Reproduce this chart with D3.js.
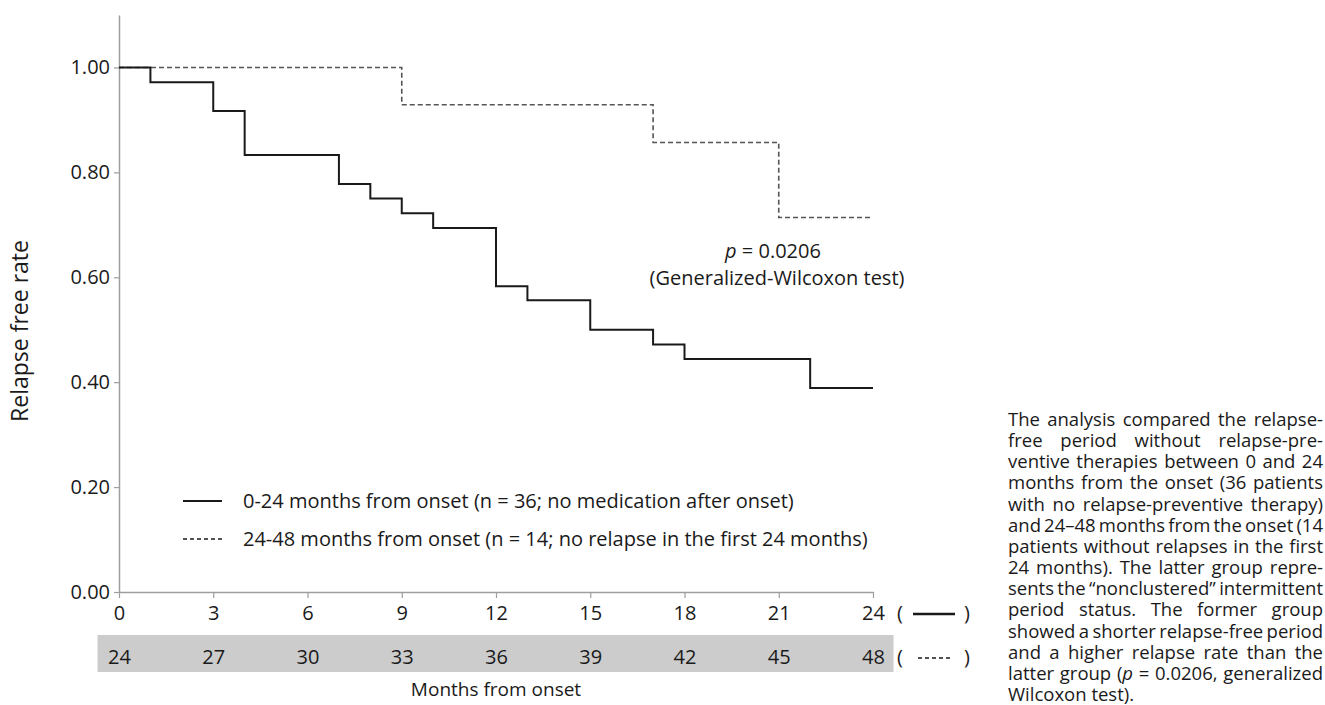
<!DOCTYPE html>
<html>
<head>
<meta charset="utf-8">
<script src="https://cdn.jsdelivr.net/npm/d3@7"></script>
<style>
  html, body { margin: 0; padding: 0; background: #fff; }
  svg text { font-family: "Open Sans", "Noto Sans", sans-serif; fill: #1a1a1a; }
</style>
</head>
<body>
<svg id="chart" width="1325" height="705"></svg>
<script>
// months on the lower axis (0-24 group) and shaded row (24-48 group)
const monthTicks = [0, 3, 6, 9, 12, 15, 18, 21, 24];
const lateMonthTicks = [24, 27, 30, 33, 36, 39, 42, 45, 48];
const rateTicks = [0, 0.2, 0.4, 0.6, 0.8, 1.0];

// 0-24 months from onset, n = 36
const earlyTimes = [0, 1, 3, 4, 7, 8, 9, 10, 12, 13, 15, 17, 18, 22, 24];
const earlyRate = [1.000, 0.972, 0.917, 0.833, 0.778, 0.750, 0.722, 0.694, 0.583, 0.556, 0.500, 0.472, 0.444, 0.389, 0.389];

// 24-48 months from onset, n = 14
const lateTimes = [0, 9, 17, 21, 24];
const lateRate = [1.000, 0.929, 0.857, 0.714, 0.714];

const legendLabels = [
  "0-24 months from onset (n = 36; no medication after onset)",
  "24-48 months from onset (n = 14; no relapse in the first 24 months)"
];

const captionLines = [
  "The analysis compared the relapse-",
  "free period without relapse-pre-",
  "ventive therapies between 0 and 24",
  "months from the onset (36 patients",
  "with no relapse-preventive therapy)",
  "and 24\u201348 months from the onset (14",
  "patients without relapses in the first",
  "24 months). The latter group repre-",
  "sents the \u201cnonclustered\u201d intermittent",
  "period status. The former group",
  "showed a shorter relapse-free period",
  "and a higher relapse rate than the",
  "latter group (*p* = 0.0206, generalized",
  "Wilcoxon test)."
];

const svg = d3.select('#chart');
const axisColor = '#9e9e9e';

const x = d3.scaleLinear().domain([0, 24]).range([119, 873]);
const xLate = d3.scaleLinear().domain([24, 48]).range([119, 873]);
const y = d3.scaleLinear().domain([0, 1.1]).range([592, 15]);

// grey band behind the second row of month labels
svg.append('rect')
  .attr('x', 97.5).attr('y', 635)
  .attr('width', 796).attr('height', 37)
  .attr('fill', '#cccccc');

// y axis
const yAxis = svg.append('g')
  .attr('transform', `translate(${x(0)},0)`)
  .call(d3.axisLeft(y).tickValues(rateTicks).tickFormat(d3.format('.2f')).tickSize(5).tickPadding(4).tickSizeOuter(0));
yAxis.select('.domain').attr('stroke', axisColor).attr('stroke-width', 1.5);
yAxis.selectAll('.tick line').attr('stroke', axisColor).attr('stroke-width', 1.2);
yAxis.selectAll('.tick text').attr('font-size', 20).attr('fill', '#1a1a1a')
  .style('font-family', '"Open Sans", sans-serif');

// x axis
const xAxis = svg.append('g')
  .attr('transform', `translate(0,${y(0)})`)
  .call(d3.axisBottom(x).tickValues(monthTicks).tickSize(6).tickPadding(8).tickSizeOuter(0));
xAxis.select('.domain').attr('stroke', axisColor).attr('stroke-width', 1.5);
xAxis.selectAll('.tick line').attr('stroke', axisColor).attr('stroke-width', 1.2);
xAxis.selectAll('.tick text').attr('font-size', 20).attr('fill', '#1a1a1a')
  .style('font-family', '"Open Sans", sans-serif');

// second row of month labels (24-48 group)
const xAxis2 = svg.append('g')
  .attr('transform', `translate(0,636)`)
  .call(d3.axisBottom(xLate).tickValues(lateMonthTicks).tickSize(0).tickPadding(14));
xAxis2.select('.domain').remove();
xAxis2.selectAll('.tick text').attr('font-size', 20).attr('fill', '#1a1a1a')
  .style('font-family', '"Open Sans", sans-serif');

// axis titles
svg.append('text')
  .attr('transform', `translate(28,${331}) rotate(-90)`)
  .attr('text-anchor', 'middle')
  .attr('font-size', 23)
  .text('Relapse free rate');

svg.append('text')
  .attr('x', 496).attr('y', 696)
  .attr('text-anchor', 'middle')
  .attr('font-size', 19)
  .text('Months from onset');

// survival curves
const line = d3.line()
  .x(d => x(d[0]))
  .y(d => y(d[1]))
  .curve(d3.curveStepAfter);

svg.append('path')
  .datum(lateTimes.map((t, i) => [t, lateRate[i]]))
  .attr('d', line)
  .attr('fill', 'none')
  .attr('stroke', '#555')
  .attr('stroke-width', 1.6)
  .attr('stroke-dasharray', '5,3');

svg.append('path')
  .datum(earlyTimes.map((t, i) => [t, earlyRate[i]]))
  .attr('d', line)
  .attr('fill', 'none')
  .attr('stroke', '#1a1a1a')
  .attr('stroke-width', 2);

// legend
const legend = svg.append('g');
const legendY = [501, 539];
legendLabels.forEach((lbl, i) => {
  legend.append('line')
    .attr('x1', 183).attr('x2', 222)
    .attr('y1', legendY[i]).attr('y2', legendY[i])
    .attr('stroke', '#1a1a1a')
    .attr('stroke-width', i === 0 ? 2 : 1.3)
    .attr('stroke-dasharray', i === 0 ? null : '4,3');
  legend.append('text')
    .attr('x', 243).attr('y', legendY[i])
    .attr('dy', '0.35em')
    .attr('font-size', 20)
    .text(lbl);
});

// line keys next to the month rows
const keyY = [613, 657];
keyY.forEach((ky, i) => {
  svg.append('text').attr('x', 900).attr('y', ky).attr('dy', '0.35em')
    .attr('text-anchor', 'middle').attr('font-size', 20).text('(');
  svg.append('text').attr('x', 967).attr('y', ky).attr('dy', '0.35em')
    .attr('text-anchor', 'middle').attr('font-size', 20).text(')');
  svg.append('line')
    .attr('x1', i === 0 ? 913 : 918).attr('x2', i === 0 ? 955 : 950)
    .attr('y1', ky + 1).attr('y2', ky + 1)
    .attr('stroke', '#1a1a1a')
    .attr('stroke-width', i === 0 ? 2.4 : 1.3)
    .attr('stroke-dasharray', i === 0 ? null : '4,3');
});

// p-value annotation
const pText = svg.append('text')
  .attr('x', 773).attr('y', 258)
  .attr('text-anchor', 'middle')
  .attr('font-size', 20);
pText.append('tspan').attr('font-style', 'italic').text('p');
pText.append('tspan').text(' = 0.0206');
svg.append('text')
  .attr('x', 777).attr('y', 285)
  .attr('text-anchor', 'middle')
  .attr('font-size', 20)
  .text('(Generalized-Wilcoxon test)');

// justified caption on the right: one text per line, words placed by tspans
const capX = 1008, capW = 315, capTop = 426, capLead = 21.15, capSize = 18.5;
const cap = svg.append('g').attr('font-size', capSize);
const probe = cap.append('text').attr('visibility', 'hidden');
function measure(segs) {
  probe.selectAll('tspan').remove();
  segs.forEach(s => probe.append('tspan').attr('font-style', s.it ? 'italic' : null).text(s.t));
  return probe.node().getComputedTextLength();
}
captionLines.forEach((ln, i) => {
  const yy = capTop + i * capLead;
  const words = ln.split(' ').map(w => w.split('*')
    .map((t, k) => ({ t, it: k % 2 === 1 }))
    .filter(s => s.t.length));
  const widths = words.map(measure);
  const total = d3.sum(widths);
  const last = i === captionLines.length - 1;
  const gap = last ? capSize * 0.26 : (capW - total) / (words.length - 1);
  const t = cap.append('text').attr('y', yy);
  let cx = capX;
  words.forEach((segs, k) => {
    segs.forEach((s, j) => {
      const ts = t.append('tspan').attr('font-style', s.it ? 'italic' : null).text(s.t);
      if (j === 0) ts.attr('x', cx);
    });
    cx += widths[k] + gap;
  });
});
probe.remove();
</script>
</body>
</html>
